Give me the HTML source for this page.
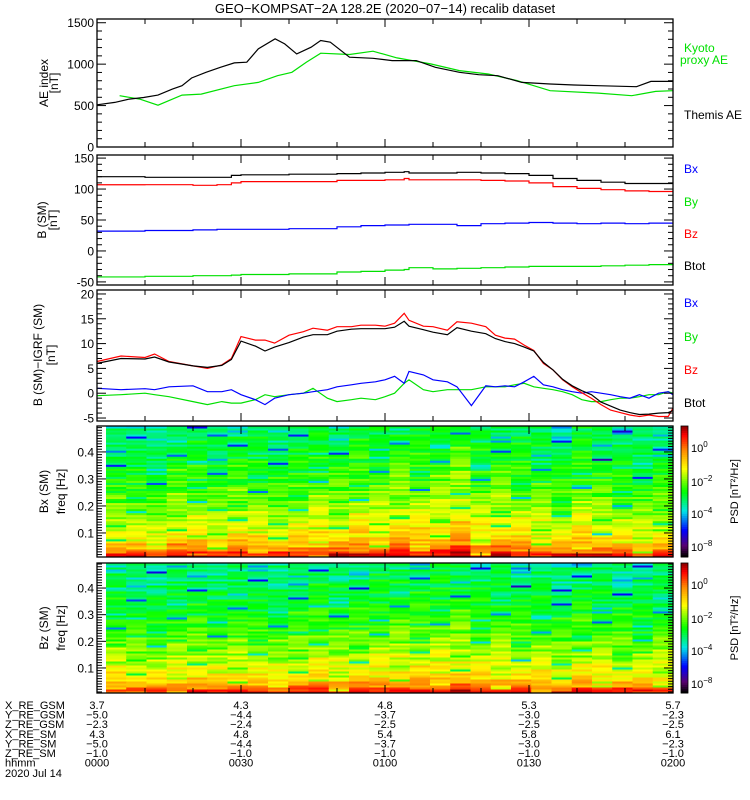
<!DOCTYPE html>
<html><head><meta charset="utf-8"><style>
body{margin:0;background:#fff;}
svg{display:block;font-family:"Liberation Sans",sans-serif;}
</style></head><body>
<svg id="chart" width="750" height="800" viewBox="0 0 750 800"></svg>
<script>
// ---------- DATA ----------
const aeThemisMin=[0,3.7,6.7,9.7,12.7,15.7,17.7,19.7,22.7,25.7,28.6,31.2,33.6,37.1,39.1,41.6,44.6,46.6,48.6,52.6,57.5,61.5,66.5,70.5,75.5,79.5,83.5,88.5,94.4,99.4,104.4,112.4,115.4,120];
const aeThemisVal=[509,538,578,598,627,699,740,833,902,962,1015,1023,1185,1306,1245,1124,1205,1286,1265,1084,1071,1043,1043,962,902,873,861,780,760,748,740,728,792,792];
const aeKyotoMin=[4.7,8.9,12.7,17.7,21.7,28.6,33.6,37.6,40.6,43.6,46.6,52.6,57.5,62.5,69.5,75.5,81.5,87.5,94.4,104.4,111.4,116.4,120];
const aeKyotoVal=[619,578,505,627,639,740,780,861,902,1023,1132,1116,1156,1075,1003,922,881,801,679,651,619,671,679];

const bMin=[0,10,20,25,28,30,40,50,55,60,64,65,70,75,80,85,90,95,100,105,110,115,120];
const bxSM=[32,33,34,35,35,35,36,39,41,42,42,43,43,41,44,45,46,45,44,45,44,45,45];
const bySM=[-42,-41,-40,-40,-39,-38,-37,-34,-33,-31,-30,-27,-29,-28,-27,-26,-25,-25,-25,-24,-23,-22,-20];
const bzSM=[107,107,106,107,110,112,112,114,114,115,117,115,115,115,114,113,110,104,101,99,97,96,96];
const btSM=[120,119,119,119,122,123,124,125,126,127,128,126,126,127,126,125,122,117,114,111,109,109,109];

const dMin=[0,5,10,12,15,20,23,26,28,30,33,35,37,40,43,45,48,50,53,55,58,60,62,64,65,68,70,73,75,78,81,83,85,87,89,91,93,95,97,99,101,103,105,107,109,111,113,115,117,119,120];
const dBz=[6.4,7.5,7.2,7.9,6.4,5.5,5.0,5.7,7.0,11.4,10.7,10.7,10.1,11.7,12.4,13.1,12.7,13.4,13.4,13.7,13.7,13.5,14.1,16.1,14.7,13.5,13.4,12.7,14.4,14.1,13.4,11.7,11.1,10.9,9.7,8.6,6.0,4.7,2.7,1.3,0.1,-1.0,-2.3,-3.4,-3.9,-4.4,-4.7,-4.4,-4.7,-4.7,-3.0];
const dBt=[6.0,7.0,6.9,7.3,6.3,5.5,5.2,5.6,6.8,10.5,9.5,8.5,9.3,10.2,11.3,11.8,11.8,12.5,12.9,13.0,13.0,13.0,13.3,14.5,13.5,12.8,12.3,11.8,13.2,12.5,12.0,11.0,10.4,10.0,9.3,8.5,6.2,4.7,2.8,1.5,0.5,-0.3,-1.8,-2.6,-3.4,-3.9,-4.3,-4.2,-4.0,-3.9,-3.5];
const dBx=[1.0,0.7,0.9,0.7,1.3,1.5,0.3,0.3,0.7,-0.3,-1.3,-2.3,-1.0,-0.3,0,0.3,0.7,1.3,1.7,2.0,2.3,2.7,3.4,2.0,4.4,3.7,2.7,2.3,1.3,-2.5,1.5,1.3,1.5,1.3,2.3,3.4,1.7,1.3,0.7,0.3,0,0.3,0,-0.3,-0.7,-1.0,-0.3,-1.0,0,0.3,-0.3];
const dBy=[-0.5,-0.3,0,-0.3,-0.7,-1.7,-2.3,-1.7,-2.0,-2.0,-1.3,-0.3,-0.7,-0.3,0,1.0,-1.0,-1.7,-1.3,-1.0,-1.3,-0.7,0,2.0,2.7,0.7,0.3,0.7,0.7,0.7,1.3,1.3,1.3,1.7,2.0,1.3,1.0,0.7,0.3,-0.3,-1.3,-1.7,-1.7,-1.3,-1.0,-1.0,-0.7,-0.3,-0.3,0.3,0];

// spectrogram levels (0..1 colour index) per time column & frequency profile
const specBxCols=[0,0,-0.02,0.03,0.02,0,0.03,0.02,0,0.02,0.04,0.03,0.05,0.04,0.07,0.05,0.06,0.09,0.03,0.05,0.03,0.02,0,0.04,0.02,0,-0.01,0.01];
const specBzCols=[0,-0.01,-0.02,0,0.01,-0.01,0.01,0,-0.02,0,0.02,0,0.01,0.02,0.03,0.02,0.03,0.04,0.01,0.02,0,0,-0.02,0.01,0,-0.01,-0.02,0];
const specProfile=[0.92,0.9,0.86,0.8,0.78,0.76,0.74,0.72,0.7,0.69,0.68,0.67,0.66,0.66,0.65,0.64,0.63,0.62,0.62,0.61,0.6,0.6,0.59,0.58,0.58,0.57,0.57,0.56,0.55,0.55,0.54,0.54,0.53,0.53,0.52,0.52,0.51,0.51,0.5,0.5,0.5,0.49,0.49,0.48,0.48,0.48,0.47,0.47,0.46,0.46,0.46,0.45,0.45,0.45,0.44,0.44,0.44,0.43,0.43,0.43,0.42,0.42,0.42,0.41,0.41];
const specJitter=[0.02,-0.04,0.05,0.0,-0.06,0.03,-0.01,0.07,-0.04,0.01,0.04,-0.03,-0.02,0.06,-0.05,0.02,0.0,-0.08,0.05,-0.27,0.03,0.01,-0.05,0.06,-0.02,0.04,-0.07,0.02,0.0,0.05,-0.03,-0.15,0.03,-0.01,0.06,-0.04,0.01];

const timeTicks=["0000","0030","0100","0130","0200"];
const ephemLabels=["X_RE_GSM","Y_RE_GSM","Z_RE_GSM","X_RE_SM","Y_RE_SM","Z_RE_SM","hhmm"];
const ephemVals=[["3.7","4.3","4.8","5.3","5.7"],["−5.0","−4.4","−3.7","−3.0","−2.3"],["−2.3","−2.4","−2.5","−2.5","−2.5"],["4.3","4.8","5.4","5.8","6.1"],["−5.0","−4.4","−3.7","−3.0","−2.3"],["−1.0","−1.0","−1.0","−1.0","−1.0"],timeTicks];

// ---------- DRAW ----------
const NS="http://www.w3.org/2000/svg";
const svg=document.getElementById('chart');
function el(tag,attrs,parent,text){const e=document.createElementNS(NS,tag);for(const k in attrs)e.setAttribute(k,attrs[k]);if(text!==undefined)e.textContent=text;(parent||svg).appendChild(e);return e;}
const X0=97,X1=673;
const xs=m=>X0+(m/120)*(X1-X0);

function panel(name,top,bot,ymin,ymax,major,minor,labels){
  const g=el('g',{},svg);
  
  
  const ys=v=>bot-(v-ymin)/(ymax-ymin)*(bot-top);
  return {g,ys,top,bot,ymin,ymax,major,minor,labels};
}
function frame(p,name){
  const g=p.g;
  const r=el('rect',{x:X0,y:p.top,width:X1-X0,height:p.bot-p.top,fill:'none',stroke:'#000','stroke-width':1.3},g);
  
  for(let m=10;m<120;m+=10){const x=xs(m),L=(m%30==0)?8:5;
    el('line',{x1:x,x2:x,y1:p.top,y2:p.top+L,stroke:'#000'},g);
    el('line',{x1:x,x2:x,y1:p.bot,y2:p.bot-L,stroke:'#000'},g);}
  const eps=1e-9;
  for(let v=Math.ceil(p.ymin/p.minor)*p.minor;v<=p.ymax+eps;v+=p.minor){
    const y=p.ys(v);const isMaj=Math.abs(v/p.major-Math.round(v/p.major))<1e-6;const L=isMaj?9:5;
    el('line',{x1:X0,x2:X0+L,y1:y,y2:y,stroke:'#000'},g);
    el('line',{x1:X1,x2:X1-L,y1:y,y2:y,stroke:'#000'},g);
    if(isMaj&&p.labels){const t=el('text',{x:X0-3,y:y+4.5,'font-size':12,'text-anchor':'end'},g,p.labels(v));
      }
  }
}
function line(p,mins,vals,color,name){
  let d='';mins.forEach((m,i)=>{d+=(i?'L':'M')+xs(m).toFixed(1)+','+p.ys(vals[i]).toFixed(1);});
  const e=el('path',{d,fill:'none',stroke:color,'stroke-width':1.2},p.g);
  
}
function step(p,mins,vals,color,name){
  let d='';mins.forEach((m,i)=>{const x=xs(m),y=p.ys(vals[i]);d+=(i?'H'+x.toFixed(1)+'V'+y.toFixed(1):'M'+x+','+y);});
  d+='H'+X1;
  const e=el('path',{d,fill:'none',stroke:color,'stroke-width':1.2},p.g);
  
}
function txt(x,y,s,attrs,name){const t=el('text',Object.assign({x,y,'font-size':12},attrs||{}),svg,s);return t;}
function vtxt(x,y,s,name,size){const t=el('text',{x:0,y:0,'font-size':size||12,'text-anchor':'middle',transform:`translate(${x},${y}) rotate(-90)`},svg,s);}

txt(385,13,'GEO−KOMPSAT−2A 128.2E (2020−07−14) recalib dataset',{'font-size':13,'text-anchor':'middle'},'chart-title');

// panel 1
const p1=panel('ae-panel',19,147,0,1545,500,100,v=>String(v));
line(p1,aeKyotoMin,aeKyotoVal,'#00e000','kyoto-ae-line');
line(p1,aeThemisMin,aeThemisVal,'#000','themis-ae-line');
frame(p1,'ae-panel');
vtxt(48,83,'AE index','ae-y-title');vtxt(58,83,'[nT]','ae-y-unit');
txt(684,52,'Kyoto',{fill:'#00e000'},'legend-kyoto');
txt(680,64,'proxy AE',{fill:'#00e000'},'legend-proxy-ae');
txt(684,119,'Themis AE',{},'legend-themis-ae');

// panel 2
const p2=panel('b-sm-panel',155,285,-55,155,50,10,v=>String(v));
step(p2,bMin,btSM,'#000','btot-line');
step(p2,bMin,bzSM,'#ff0000','bz-line');
step(p2,bMin,bxSM,'#0000ff','bx-line');
step(p2,bMin,bySM,'#00e000','by-line');
frame(p2,'b-sm-panel');
vtxt(46,220,'B (SM)','b-sm-y-title');vtxt(57,220,'[nT]','b-sm-y-unit');
txt(684,173,'Bx',{fill:'#0000ff'},'legend-bx');
txt(684,206,'By',{fill:'#00e000'},'legend-by');
txt(684,238,'Bz',{fill:'#ff0000'},'legend-bz');
txt(684,270,'Btot',{},'legend-btot');

// panel 3
const p3=panel('b-igrf-panel',290,421,-5.6,20.8,5,1,v=>String(v));
line(p3,dMin,dBy,'#00e000','dby-line');
line(p3,dMin,dBx,'#0000ff','dbx-line');
line(p3,dMin,dBz,'#ff0000','dbz-line');
line(p3,dMin,dBt,'#000','dbtot-line');
frame(p3,'b-igrf-panel');
vtxt(42,355,'B (SM)−IGRF (SM)','b-igrf-y-title');vtxt(55,355,'[nT]','b-igrf-y-unit');
txt(684,307,'Bx',{fill:'#0000ff'},'legend-dbx');
txt(684,341,'By',{fill:'#00e000'},'legend-dby');
txt(684,374,'Bz',{fill:'#ff0000'},'legend-dbz');
txt(684,407,'Btot',{},'legend-dbtot');

// colormap
function cmap(v){
  v=Math.max(0,Math.min(1,v));
  const st=[[0,[0,0,0]],[0.08,[90,0,110]],[0.2,[0,0,255]],[0.35,[0,230,230]],[0.5,[0,255,0]],[0.68,[255,255,0]],[0.82,[255,140,0]],[0.94,[255,0,0]],[1,[150,0,0]]];
  for(let i=1;i<st.length;i++){if(v<=st[i][0]){const a=st[i-1],b=st[i],t=(v-a[0])/(b[0]-a[0]);
    return 'rgb('+a[1].map((c,k)=>Math.round(c+(b[1][k]-c)*t)).join(',')+')';}}
  return 'rgb(150,0,0)';
}
function spectro(name,top,bot,fmin,fmax,cols,salt,title1){
  const p=panel(name,top,bot,fmin,fmax,0.1,0.01,null);
  const sx0=106,nC=cols.length,nR=specProfile.length,cw=(X1-sx0)/nC,rh=(bot-top)/nR;
  el('rect',{x:X0,y:top,width:X1-X0,height:bot-top,fill:'#fff'},p.g);
  const J=specJitter.length;
  for(let c=0;c<nC;c++)for(let r=0;r<nR;r++){
    const v=specProfile[r]+cols[c]+specJitter[(r*7+c*13+salt)%J]*0.9+specJitter[(r*11+c*5+salt*3)%J]*0.4;
    const cell=el('rect',{x:(sx0+c*cw).toFixed(2),y:(bot-(r+1)*rh).toFixed(2),width:(cw+0.6).toFixed(2),height:(rh+0.5).toFixed(2),fill:cmap(v)},p.g);
    
    
  }
  frame(Object.assign({},p,{labels:v=>(v>0.05&&v<0.45)?v.toFixed(1):''}),name);
  vtxt(48,(top+bot)/2,title1,name+'-y-title');vtxt(65,(top+bot)/2,'freq [Hz]',name+'-y-freq');
  const cb=el('g',{},svg);
  for(let i=0;i<60;i++){el('rect',{x:681,y:(bot-(i+1)*(bot-top)/60).toFixed(2),width:7,height:((bot-top)/60+0.5).toFixed(2),fill:cmap(i/59)},cb);}
  el('rect',{x:681,y:top,width:7,height:bot-top,fill:'none',stroke:'#000','stroke-width':0.8},cb);
  const lab=[['10','0',top+26],['10','−2',top+60],['10','−4',top+92],['10','−8',top+125]];
  lab.forEach(l=>{const t=el('text',{x:691,y:l[2],'font-size':11},cb);
    el('tspan',{},t,l[0]);el('tspan',{dy:-5,'font-size':8},t,l[1]);});
  vtxt(738,(top+bot)/2,'PSD [nT²/Hz]',name+'-colorbar-title',11);
}
spectro('bx-spectrogram',426,557,0.011,0.496,specBxCols,0,'Bx (SM)');
spectro('bz-spectrogram',563,693,0.006,0.494,specBzCols,17,'Bz (SM)');

// ephemeris
const ex=[97,241,385,529,673];
ephemLabels.forEach((lab,i)=>{const y=709+i*9.6;
  txt(5,y,lab,{'font-size':11},'ephem-label');
  ephemVals[i].forEach((v,j)=>txt(ex[j],y,v,{'font-size':11,'text-anchor':'middle'},'ephem-value'));
});
txt(5,777,'2020 Jul 14',{'font-size':11},'date-label');
</script>
</body></html>
